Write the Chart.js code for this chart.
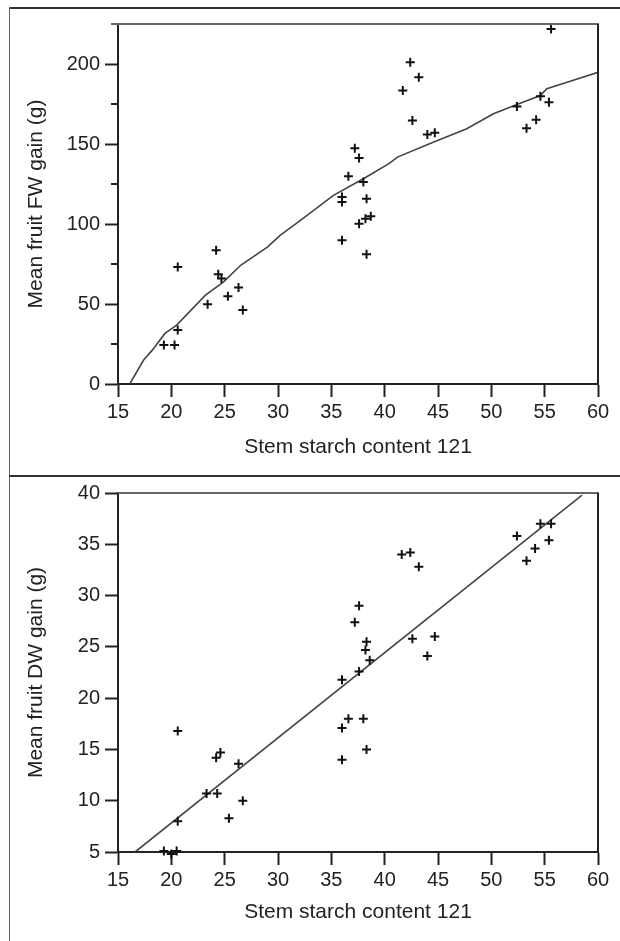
<!DOCTYPE html>
<html>
<head>
<meta charset="utf-8">
<script src="https://cdn.jsdelivr.net/npm/chart.js@4/dist/chart.umd.min.js"></script>
<style>
  html, body { margin: 0; padding: 0; background: #fff; }
  body { width: 620px; height: 941px; position: relative; overflow: hidden; }
  canvas { position: absolute; left: 0; }
  #fwChart { top: 0; }
  #dwChart { top: 476px; }
  .rule { position: absolute; background: #333; }
</style>
</head>
<body>
<div class="rule" style="left:9px; top:7px; width:611px; height:2px;"></div>
<div class="rule" style="left:9px; top:7px; width:1px; height:934px; background:#666;"></div>
<div class="rule" style="left:9px; top:475px; width:611px; height:2px;"></div>
<canvas id="fwChart" width="620" height="476"></canvas>
<canvas id="dwChart" width="620" height="465"></canvas>
<script>
// fresh weight panel
const fwStarch = [19.3, 20.3, 20.6, 20.6, 23.4, 24.2, 24.4, 24.7, 25.3, 26.3, 26.7,
    36.0, 36.0, 36.0, 36.6, 37.2, 37.6, 37.6, 38.0, 38.2, 38.3, 38.3, 38.7,
    41.7, 42.4, 42.6, 43.2, 44.0, 44.7, 52.4, 53.3, 54.2, 54.6, 55.4, 55.6];
const fwGain = [24.3, 24.3, 33.7, 73.2, 49.9, 83.6, 68.6, 65.9, 54.9, 60.3, 46.2,
    116.8, 113.7, 89.8, 129.8, 147.4, 141.2, 100.2, 126.2, 103.3, 115.8, 81.1, 104.8,
    183.4, 201.1, 164.7, 191.7, 156.0, 157.0, 173.4, 159.9, 165.1, 179.9, 176.1, 221.9];
const fwFitX = [16.1, 17.4, 18.2, 19.4, 20.5, 23.2, 24.9, 26.5, 29.0, 30.2, 32.1, 35.2,
    38.0, 40.4, 41.2, 44.6, 47.7, 50.2, 52.4, 54.6, 55.2, 57.1, 60.0];
const fwFitY = [0, 15, 21, 31.6, 36.8, 55.5, 63.8, 74.2, 85.6, 92.9, 102.3, 117.9,
    128.3, 137.7, 141.8, 151.2, 159.5, 168.9, 174.7, 180.3, 184.5, 188.6, 194.8];
const fwMinorTicks = [25, 75, 125, 175, 225];

// dry weight panel
const dwStarch = [19.3, 20.0, 20.5, 20.6, 20.6, 23.3, 24.3, 24.2, 24.6, 25.4, 26.3, 26.7,
    36.0, 36.0, 36.0, 36.6, 37.2, 37.6, 37.6, 38.0, 38.2, 38.3, 38.3, 38.6,
    41.6, 42.4, 42.6, 43.2, 44.0, 44.7, 52.4, 53.3, 54.1, 54.6, 55.4, 55.6];
const dwGain = [5.1, 4.8, 5.1, 16.8, 8.0, 10.7, 10.7, 14.2, 14.7, 8.3, 13.6, 10.0,
    21.8, 17.1, 14.0, 18.0, 27.4, 22.6, 29.0, 18.0, 24.7, 25.5, 15.0, 23.7,
    34.0, 34.2, 25.8, 32.8, 24.1, 26.0, 35.8, 33.4, 34.6, 37.0, 35.4, 37.0];
const dwFitX = [16.6, 58.5];
const dwFitY = [5, 39.8];

const xTicks = [15, 60, 5]; // min, max, step

Chart.defaults.font.family = '"Liberation Sans", Arial, sans-serif';
Chart.defaults.color = '#222';

function toPoints(xs, ys) {
    return xs.map((x, i) => ({ x: x, y: ys[i] }));
}

// top and right frame lines plus short minor ticks on the y axis
const framePlugin = {
    id: 'frame',
    afterDraw(chart, args, opts) {
        const a = chart.chartArea;
        const ctx = chart.ctx;
        ctx.save();
        ctx.lineWidth = 2;
        ctx.strokeStyle = '#666';
        ctx.beginPath();
        ctx.moveTo(a.left, a.top);
        ctx.lineTo(a.right + 1, a.top);
        ctx.stroke();
        ctx.strokeStyle = '#222';
        ctx.beginPath();
        ctx.moveTo(a.right, a.top);
        ctx.lineTo(a.right, a.bottom);
        ctx.stroke();
        (opts.minor || []).forEach(v => {
            const py = chart.scales.y.getPixelForValue(v);
            ctx.strokeStyle = v === chart.scales.y.max ? '#666' : '#222';
            ctx.beginPath();
            ctx.moveTo(a.left - 7, py);
            ctx.lineTo(a.left, py);
            ctx.stroke();
        });
        ctx.restore();
    }
};

function makeChart(id, pts, fit, yOpts, yTitle, pad, minor) {
    const ctx = document.getElementById(id).getContext('2d');
    return new Chart(ctx, {
        type: 'scatter',
        data: {
            datasets: [{
                data: pts,
                pointStyle: 'cross',
                pointRadius: 4.5,
                pointBorderWidth: 2,
                borderColor: '#111',
                backgroundColor: '#111',
                clip: false
            }, {
                type: 'line',
                data: fit,
                borderColor: '#444',
                borderWidth: 1.6,
                pointRadius: 0,
                tension: 0,
                fill: false
            }]
        },
        options: {
            responsive: false,
            animation: false,
            devicePixelRatio: 1,
            layout: { padding: { left: 0, right: 22, top: pad.top, bottom: 0 } },
            plugins: {
                legend: { display: false },
                tooltip: { enabled: false },
                frame: { minor: minor }
            },
            scales: {
                x: {
                    type: 'linear',
                    min: xTicks[0],
                    max: xTicks[1],
                    afterFit: s => { s.height = pad.xh; },
                    border: { color: '#222', width: 2 },
                    grid: { drawOnChartArea: false, tickLength: 13, tickWidth: 2, tickColor: '#222' },
                    ticks: { stepSize: xTicks[2], padding: 3, maxRotation: 0, autoSkip: false,
                        font: { size: 20 }, color: '#222' },
                    title: { display: true, text: 'Stem starch content 121',
                        font: { size: 21 }, color: '#222', padding: { top: 0, bottom: 16 } }
                },
                y: {
                    min: yOpts.min,
                    max: yOpts.max,
                    afterFit: s => { s.width = 118; },
                    border: { color: '#222', width: 2 },
                    grid: {
                        drawOnChartArea: false, tickLength: 13, tickWidth: 2,
                        tickColor: c => (c.tick && c.tick.value % yOpts.label === 0) ? '#222' : 'rgba(0,0,0,0)'
                    },
                    ticks: {
                        stepSize: yOpts.step, padding: 5, autoSkip: false,
                        font: { size: 20 }, color: '#222',
                        callback: v => (v % yOpts.label === 0 ? String(v) : '')
                    },
                    title: { display: true, text: yTitle,
                        font: { size: 21 }, color: '#222', padding: { top: 24, bottom: 0 } }
                }
            }
        },
        plugins: [framePlugin]
    });
}

makeChart('fwChart', toPoints(fwStarch, fwGain), toPoints(fwFitX, fwFitY),
    { min: 0, max: 225, step: 25, label: 50 }, 'Mean fruit FW gain (g)',
    { top: 24, xh: 92 }, fwMinorTicks);

makeChart('dwChart', toPoints(dwStarch, dwGain), toPoints(dwFitX, dwFitY),
    { min: 5, max: 40, step: 5, label: 5 }, 'Mean fruit DW gain (g)',
    { top: 16, xh: 89 }, []);
</script>
</body>
</html>
